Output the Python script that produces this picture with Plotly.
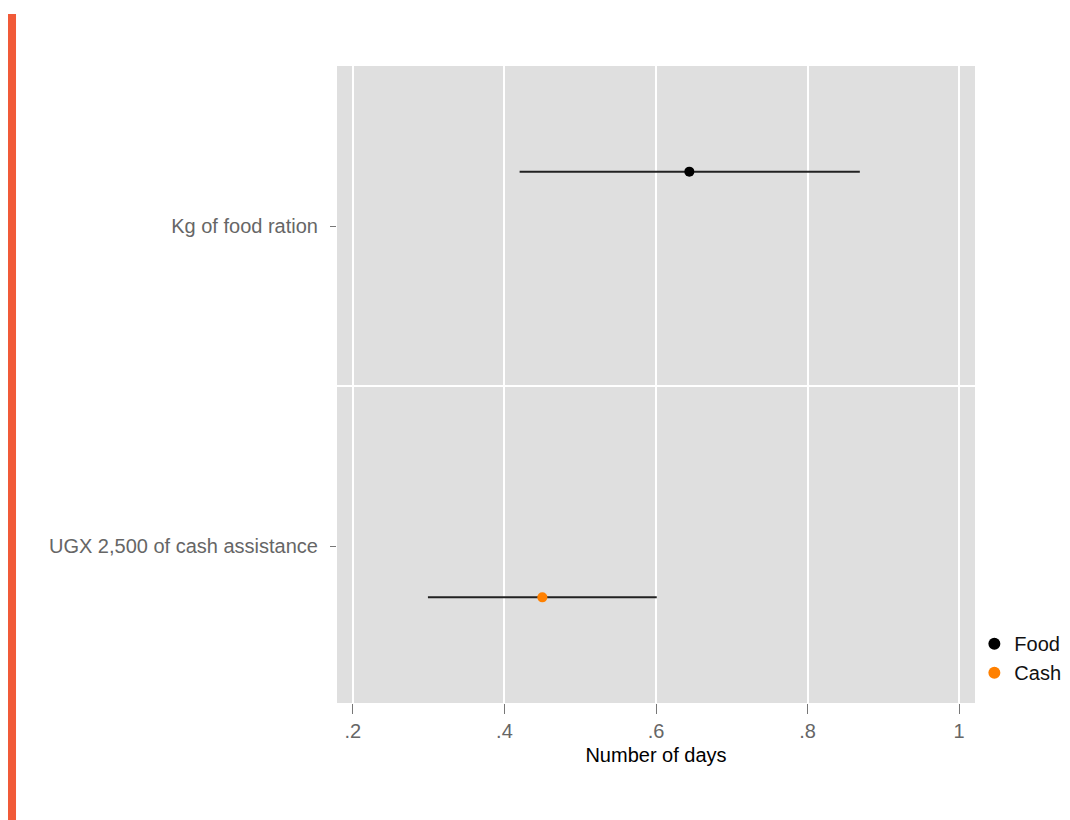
import plotly.graph_objects as go

# Data
categories = ["UGX 2,500 of cash assistance", "Kg of food ration"]
series_names = ["Food", "Cash"]
series_cat_index = [1, 0]          # which category row each series belongs to
series_dodge = [0.17, -0.16]       # vertical dodge within row
estimates = [0.644, 0.45]
ci_low = [0.420, 0.299]
ci_high = [0.869, 0.601]
colors = ["#000000", "#FF8000"]
x_tickvals = [0.2, 0.4, 0.6, 0.8, 1.0]
x_ticktext = [".2", ".4", ".6", ".8", "1"]

FONT = "Liberation Sans, Arial, Helvetica, sans-serif"
FS = 20

fig = go.Figure()
for i, name in enumerate(series_names):
    y = series_cat_index[i] + series_dodge[i]
    fig.add_trace(go.Scatter(
        x=[estimates[i]], y=[y], mode="markers", name=name,
        marker=dict(color=colors[i], size=10),
        error_x=dict(type="data", symmetric=False,
                     array=[ci_high[i] - estimates[i]],
                     arrayminus=[estimates[i] - ci_low[i]],
                     color="#222222", thickness=2, width=0),
    ))

fig.update_layout(
    width=1062, height=812,
    margin=dict(l=329, r=95, t=58, b=117, autoexpand=False),
    paper_bgcolor="white", plot_bgcolor="#DFDFDF",
    font=dict(family=FONT, size=FS, color="#666666"),
    showlegend=True,
    legend=dict(x=0.999, xanchor="left", y=0.017, yanchor="bottom",
                bgcolor="rgba(0,0,0,0)", font=dict(size=FS, color="#111111"),
                itemsizing="constant", tracegroupgap=0),
    shapes=[dict(type="rect", xref="paper", yref="paper",
                 x0=-0.5157, x1=-0.5031, y0=-0.1837, y1=1.0816,
                 fillcolor="#F15A38", line=dict(width=0), layer="above")],
)

fig.update_xaxes(
    range=[0.179, 1.021], tickvals=x_tickvals, ticktext=x_ticktext,
    showgrid=True, gridcolor="white", gridwidth=1.5, zeroline=False,
    ticks="outside", ticklen=10, tickcolor="#777777", tickwidth=1,
    tickfont=dict(size=FS, color="#666666"),
    title=dict(text="Number of days", font=dict(size=FS, color="#000000"), standoff=6),
    showline=False,
)
fig.update_yaxes(
    range=[-0.49, 1.5], tickvals=[0, 1], ticktext=categories,
    showgrid=False, zeroline=False,
    ticks="outside", ticklen=6, tickcolor="#777777", tickwidth=1,
    tickfont=dict(size=FS, color="#666666"), ticklabelstandoff=8,
    minor=dict(tick0=0.5, dtick=1, showgrid=True, gridcolor="white", gridwidth=1.5, ticks=""),
    showline=False,
)

fig.write_html("out.html")
